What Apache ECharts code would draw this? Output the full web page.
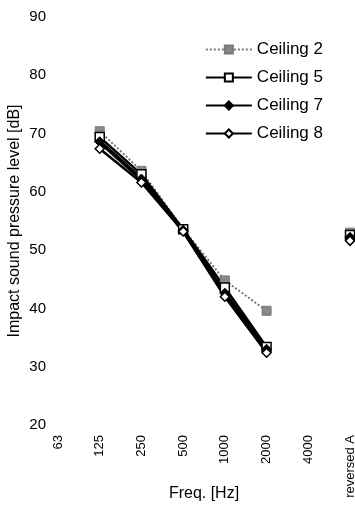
<!DOCTYPE html>
<html><head><meta charset="utf-8">
<script src="https://cdn.jsdelivr.net/npm/echarts@6/dist/echarts.min.js"></script>
<style>html,body{margin:0;padding:0;background:#fff}#c{width:355px;height:506px}</style>
</head><body><div id="c"></div>
<script>
const categories = ['63','125','250','500','1000','2000','4000','reversed A'];
const ceiling2 = [null, 70.4, 63.6, 53.6, 44.8, 39.6, null, 53.0];
const ceiling5 = [null, 69.4, 63.0, 53.6, 43.6, 33.4, null, 52.6];
const ceiling7 = [null, 68.6, 62.2, 53.4, 42.6, 33.0, null, 52.2];
const ceiling8 = [null, 67.4, 61.6, 53.2, 42.0, 32.4, null, 51.6];
const yTicks = [20, 90, 10];

const font = 'Liberation Sans, Arial, sans-serif';
const chart = echarts.init(document.getElementById('c'));
chart.setOption({
  animation: false,
  textStyle: { fontFamily: font, color: '#000' },
  grid: { left: 58, right: 5, top: 17, bottom: 81, containLabel: false, outerBoundsMode: 'none' },
  legend: {
    right: 27, top: 36, orient: 'vertical', itemGap: 11, itemWidth: 46, itemHeight: 10,
    textStyle: { fontSize: 17, color: '#000', fontFamily: font },
    data: ['Ceiling 2','Ceiling 5','Ceiling 7','Ceiling 8']
  },
  xAxis: {
    type: 'category', data: categories, boundaryGap: false,
    axisLine: { show: false }, axisTick: { show: false }, splitLine: { show: false },
    axisLabel: { rotate: 90, fontSize: 13, color: '#000', margin: 10, fontFamily: font, interval: 0 },
    name: 'Freq. [Hz]', nameLocation: 'middle', nameGap: 61, nameMoveOverlap: false,
    nameTextStyle: { fontSize: 16, color: '#000', fontFamily: font }
  },
  yAxis: {
    type: 'value', min: yTicks[0], max: yTicks[1], interval: yTicks[2],
    axisLine: { show: false }, axisTick: { show: false }, splitLine: { show: false },
    axisLabel: { fontSize: 15, color: '#000', margin: 12, fontFamily: font },
    name: 'Impact sound pressure level [dB]', nameLocation: 'middle', nameGap: 35, nameMoveOverlap: false,
    nameTextStyle: { fontSize: 16, color: '#000', fontFamily: font }
  },
  series: [
    { name: 'Ceiling 2', type: 'line', data: ceiling2, symbol: 'rect', symbolSize: 9,
      lineStyle: { color: '#777', width: 2, type: 'dotted' },
      itemStyle: { color: '#888', borderColor: '#777', borderWidth: 1 } },
    { name: 'Ceiling 5', type: 'line', data: ceiling5, symbol: 'rect', symbolSize: 9,
      lineStyle: { color: '#000', width: 2.5 },
      itemStyle: { color: '#fff', borderColor: '#000', borderWidth: 1.5 } },
    { name: 'Ceiling 7', type: 'line', data: ceiling7, symbol: 'diamond', symbolSize: 10,
      lineStyle: { color: '#000', width: 4 },
      itemStyle: { color: '#000', borderColor: '#000', borderWidth: 1 } },
    { name: 'Ceiling 8', type: 'line', data: ceiling8, symbol: 'diamond', symbolSize: 9,
      lineStyle: { color: '#000', width: 2.5 },
      itemStyle: { color: '#fff', borderColor: '#000', borderWidth: 1.5 } }
  ]
});
</script></body></html>
